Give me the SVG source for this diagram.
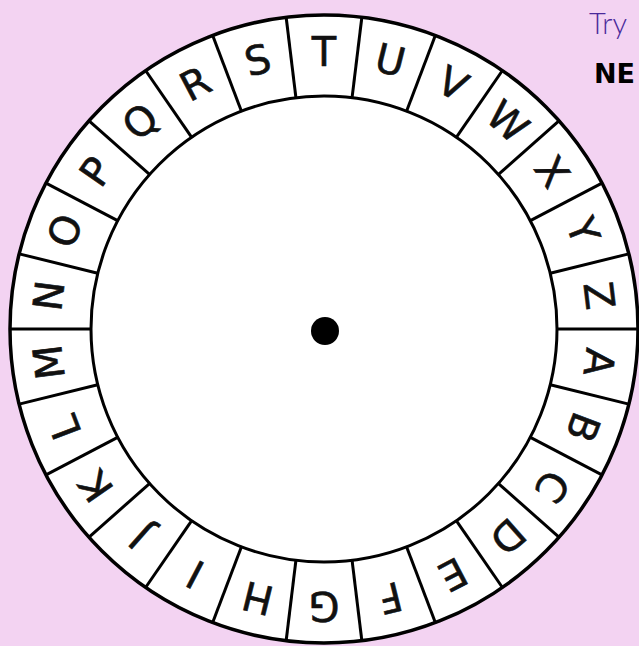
<svg xmlns="http://www.w3.org/2000/svg" xmlns:xlink="http://www.w3.org/1999/xlink" width="639" height="646" viewBox="0 0 639 646">
<style>
.ring{fill:#ffffff;stroke:#000000;stroke-width:3.5}
.inner{fill:#ffffff;stroke:#000000;stroke-width:3}
.div{stroke:#000000;stroke-width:3;stroke-linecap:butt}
.lt{font-family:"DejaVu Sans","Liberation Sans",sans-serif;font-size:40px;fill:#111111;stroke:#111111;stroke-width:0.6;text-anchor:middle}
.try{font-family:"Lato","Liberation Sans",sans-serif;font-weight:300;font-size:29px;fill:#4a2a9a}
.ne{font-family:"DejaVu Sans","Liberation Sans",sans-serif;font-weight:bold;font-size:27px;fill:#000000}
</style>
<defs>
<line id="d" class="div" x1="324" y1="97" x2="324" y2="14"/>
</defs>
<rect x="0" y="0" width="639" height="646" fill="#f3d3f2"/>
<g id="wheel">
<circle class="ring" cx="324" cy="329" r="314"/>
<circle class="inner" cx="324" cy="329" r="233"/>
<circle id="pin" cx="325" cy="331" r="14" fill="#000000"/>
</g>
<g id="dividers">
<use xlink:href="#d" transform="rotate(6.923 324 329)"/>
<use xlink:href="#d" transform="rotate(20.769 324 329)"/>
<use xlink:href="#d" transform="rotate(34.615 324 329)"/>
<use xlink:href="#d" transform="rotate(48.462 324 329)"/>
<use xlink:href="#d" transform="rotate(62.308 324 329)"/>
<use xlink:href="#d" transform="rotate(76.154 324 329)"/>
<use xlink:href="#d" transform="rotate(90 324 329)"/>
<use xlink:href="#d" transform="rotate(103.846 324 329)"/>
<use xlink:href="#d" transform="rotate(117.692 324 329)"/>
<use xlink:href="#d" transform="rotate(131.538 324 329)"/>
<use xlink:href="#d" transform="rotate(145.385 324 329)"/>
<use xlink:href="#d" transform="rotate(159.231 324 329)"/>
<use xlink:href="#d" transform="rotate(173.077 324 329)"/>
<use xlink:href="#d" transform="rotate(186.923 324 329)"/>
<use xlink:href="#d" transform="rotate(200.769 324 329)"/>
<use xlink:href="#d" transform="rotate(214.615 324 329)"/>
<use xlink:href="#d" transform="rotate(228.462 324 329)"/>
<use xlink:href="#d" transform="rotate(242.308 324 329)"/>
<use xlink:href="#d" transform="rotate(256.154 324 329)"/>
<use xlink:href="#d" transform="rotate(270 324 329)"/>
<use xlink:href="#d" transform="rotate(283.846 324 329)"/>
<use xlink:href="#d" transform="rotate(297.692 324 329)"/>
<use xlink:href="#d" transform="rotate(311.538 324 329)"/>
<use xlink:href="#d" transform="rotate(325.385 324 329)"/>
<use xlink:href="#d" transform="rotate(339.231 324 329)"/>
<use xlink:href="#d" transform="rotate(353.077 324 329)"/>
</g>
<g id="letters">
<g id="seg-T"><text class="lt" x="324" y="66" transform="rotate(0 324 329)">T</text></g>
<g id="seg-U"><text class="lt" x="324" y="66" transform="rotate(13.846 324 329)">U</text></g>
<g id="seg-V"><text class="lt" x="324" y="66" transform="rotate(27.692 324 329)">V</text></g>
<g id="seg-W"><text class="lt" x="324" y="66" transform="rotate(41.538 324 329)">W</text></g>
<g id="seg-X"><text class="lt" x="324" y="66" transform="rotate(55.385 324 329)">X</text></g>
<g id="seg-Y"><text class="lt" x="324" y="66" transform="rotate(69.231 324 329)">Y</text></g>
<g id="seg-Z"><text class="lt" x="324" y="66" transform="rotate(83.077 324 329)">Z</text></g>
<g id="seg-A"><text class="lt" x="324" y="66" transform="rotate(96.923 324 329)">A</text></g>
<g id="seg-B"><text class="lt" x="324" y="66" transform="rotate(110.769 324 329)">B</text></g>
<g id="seg-C"><text class="lt" x="324" y="66" transform="rotate(124.615 324 329)">C</text></g>
<g id="seg-D"><text class="lt" x="324" y="66" transform="rotate(138.462 324 329)">D</text></g>
<g id="seg-E"><text class="lt" x="324" y="66" transform="rotate(152.308 324 329)">E</text></g>
<g id="seg-F"><text class="lt" x="324" y="66" transform="rotate(166.154 324 329)">F</text></g>
<g id="seg-G"><text class="lt" x="324" y="66" transform="rotate(180 324 329)">G</text></g>
<g id="seg-H"><text class="lt" x="324" y="66" transform="rotate(193.846 324 329)">H</text></g>
<g id="seg-I"><text class="lt" x="324" y="66" transform="rotate(207.692 324 329)">I</text></g>
<g id="seg-J"><text class="lt" x="324" y="66" transform="rotate(221.538 324 329)">J</text></g>
<g id="seg-K"><text class="lt" x="324" y="66" transform="rotate(235.385 324 329)">K</text></g>
<g id="seg-L"><text class="lt" x="324" y="66" transform="rotate(249.231 324 329)">L</text></g>
<g id="seg-M"><text class="lt" x="324" y="66" transform="rotate(263.077 324 329)">M</text></g>
<g id="seg-N"><text class="lt" x="324" y="66" transform="rotate(276.923 324 329)">N</text></g>
<g id="seg-O"><text class="lt" x="324" y="66" transform="rotate(290.769 324 329)">O</text></g>
<g id="seg-P"><text class="lt" x="324" y="66" transform="rotate(304.615 324 329)">P</text></g>
<g id="seg-Q"><text class="lt" x="324" y="66" transform="rotate(318.462 324 329)">Q</text></g>
<g id="seg-R"><text class="lt" x="324" y="66" transform="rotate(332.308 324 329)">R</text></g>
<g id="seg-S"><text class="lt" x="324" y="66" transform="rotate(346.154 324 329)">S</text></g>
</g>
<g id="caption">
<text class="try" x="589" y="34">Try</text>
<text class="ne" x="594" y="83">NE</text>
</g>
</svg>
